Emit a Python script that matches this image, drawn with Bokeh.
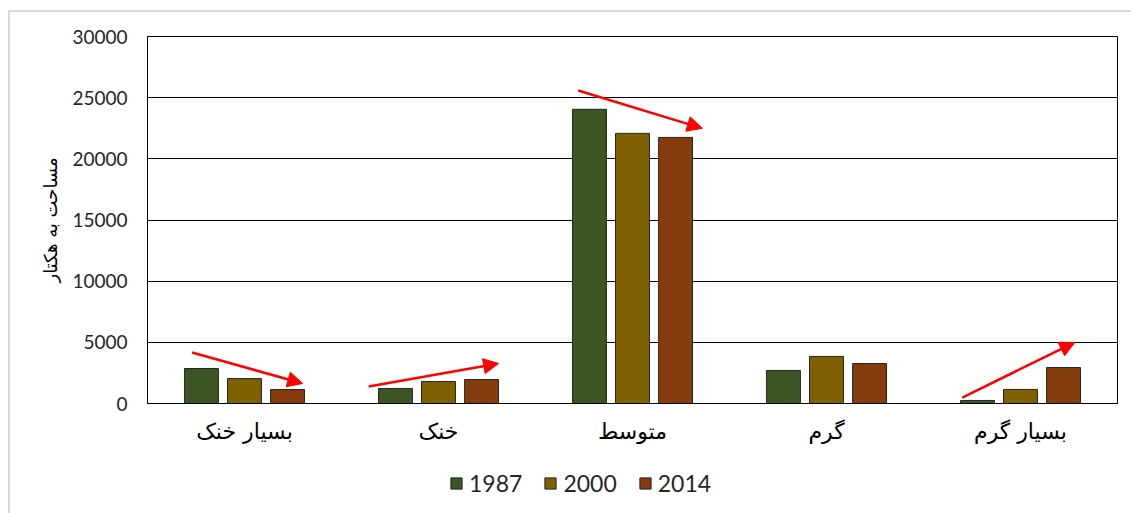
from bokeh.plotting import figure
from bokeh.layouts import column
from bokeh.models import (ColumnDataSource, Range1d, FixedTicker, Legend, LegendItem,
                          Arrow, NormalHead)
from bokeh.embed import file_html
from bokeh.resources import INLINE

categories = ["بسیار خنک", "خنک", "متوسط", "گرم", "بسیار گرم"]
years = ["1987", "2000", "2014"]
v1987 = [2860, 1230, 24050, 2700, 250]
v2000 = [2040, 1800, 22080, 3850, 1150]
v2014 = [1140, 1960, 21750, 3270, 2940]
colors = ["#3B5523", "#7F6000", "#843C0C"]
y_ticks = [0, 5000, 10000, 15000, 20000, 25000, 30000]

# trend arrows (category index units, value units)
arrow_x0 = [0.23, 1.14, 2.22, 4.20]
arrow_y0 = [4170, 1390, 25590, 490]
arrow_x1 = [0.80, 1.81, 2.86, 4.78]
arrow_y1 = [1635, 3270, 22490, 4990]

W = 1121
p = figure(width=W, height=450, output_backend="svg", toolbar_location=None,
           x_range=Range1d(0, len(categories)), y_range=Range1d(0, 30000),
           min_border_left=137, min_border_right=14, min_border_top=24,
           min_border_bottom=59)

offsets = [-0.222, 0.0, 0.222]
series = [v1987, v2000, v2014]
renderers = []
for k, (vals, off) in enumerate(zip(series, offsets)):
    src = ColumnDataSource(dict(x=[i + 0.5 + off for i in range(len(categories))], top=vals))
    r = p.vbar(x="x", top="top", width=0.175, source=src, fill_color=colors[k],
               line_color="#262626", line_width=1)
    renderers.append(r)

for xa, ya, xb, yb in zip(arrow_x0, arrow_y0, arrow_x1, arrow_y1):
    p.add_layout(Arrow(x_start=xa, y_start=ya, x_end=xb, y_end=yb,
                       line_color="#FF0000", line_width=2.5,
                       end=NormalHead(size=15, fill_color="#FF0000", line_color="#FF0000")))

# axes
p.xaxis.ticker = FixedTicker(ticks=[i + 0.5 for i in range(len(categories))])
p.xaxis.major_label_overrides = {i + 0.5: c for i, c in enumerate(categories)}
p.xaxis.major_tick_line_color = None
p.xaxis.minor_tick_line_color = None
p.xaxis.axis_line_color = "black"
p.xaxis.major_label_text_font = "DejaVu Sans"
p.xaxis.major_label_text_font_size = "22px"
p.xaxis.major_label_text_color = "#000000"
p.xaxis.major_label_standoff = 9
p.xgrid.grid_line_color = None

p.yaxis.ticker = FixedTicker(ticks=y_ticks)
p.yaxis.major_tick_line_color = None
p.yaxis.minor_tick_line_color = None
p.yaxis.axis_line_color = "black"
p.yaxis.major_label_text_font = "Lato"
p.yaxis.major_label_text_font_size = "19px"
p.yaxis.major_label_text_color = "#262626"
p.yaxis.major_label_standoff = 14
p.yaxis.axis_label = "مساحت به هکتار"
p.yaxis.axis_label_text_font = "DejaVu Sans"
p.yaxis.axis_label_text_font_style = "normal"
p.yaxis.axis_label_text_font_size = "18px"
p.yaxis.axis_label_text_color = "#000000"
p.yaxis.axis_label_standoff = 8
p.ygrid.grid_line_color = "black"
p.ygrid.grid_line_width = 1

p.outline_line_color = "black"
p.outline_line_width = 1

# legend strip below the chart (legend-only renderers with no drawable bar)
lg = figure(width=W, height=51, output_backend="svg", toolbar_location=None,
            x_range=Range1d(0, 1), y_range=Range1d(0, 1),
            min_border_left=137, min_border_right=14, min_border_top=0, min_border_bottom=0)
lg.axis.visible = False
lg.grid.grid_line_color = None
lg.outline_line_color = None
lg_renderers = [lg.vbar(x=[0.5], top=[float("nan")], bottom=[float("nan")], width=0.1,
                        fill_color=c, line_color="#262626")
                for c in colors]
legend = Legend(items=[LegendItem(label=y, renderers=[r]) for y, r in zip(years, lg_renderers)],
                orientation="horizontal", location=(302, 16),
                label_text_font="Lato", label_text_font_size="23px",
                label_text_color="#262626", glyph_width=14, glyph_height=14,
                label_standoff=6, spacing=21, border_line_color=None,
                background_fill_alpha=0, padding=4, margin=0)
lg.add_layout(legend, "center")

layout = column(p, lg, spacing=0,
                styles={"margin-left": "8px", "margin-top": "10px",
                        "border-left": "2px solid #d9d9d9", "border-top": "2px solid #d9d9d9"})

open("out.html", "w").write(file_html(layout, INLINE))
